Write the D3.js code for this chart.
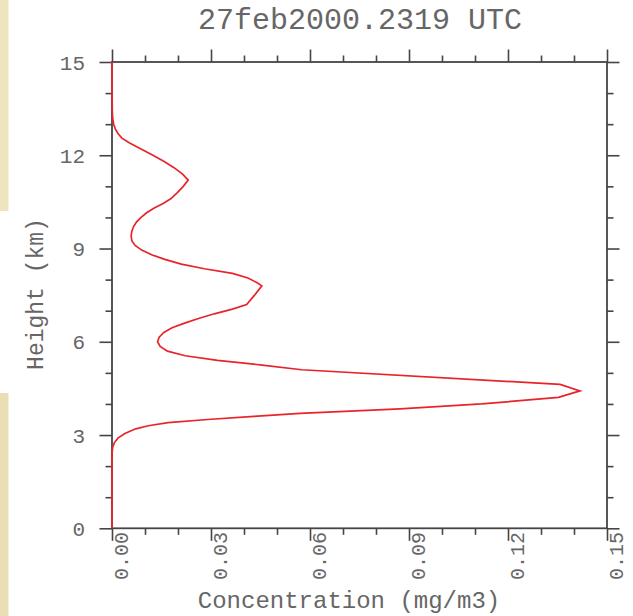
<!DOCTYPE html>
<html>
<head>
<meta charset="utf-8">
<script src="https://cdn.jsdelivr.net/npm/d3@7"></script>
<style>
  html, body { margin: 0; padding: 0; background: #ffffff; }
  svg { display: block; }
</style>
</head>
<body>
<svg id="chart" width="633" height="616"></svg>
<script>
// ---- Data ----
const heights = [15.0, 14.0, 13.4, 13.2, 13.0, 12.85, 12.7, 12.55, 12.4, 12.2, 12.0, 11.8, 11.6, 11.4, 11.2,
  11.0, 10.8, 10.6, 10.45, 10.3, 10.15, 10.0, 9.85, 9.7, 9.55, 9.4, 9.25, 9.1, 8.95, 8.8, 8.65, 8.5, 8.35, 8.2, 8.05, 7.9,
  7.8, 7.5, 7.2, 7.05, 6.9, 6.75, 6.6, 6.45, 6.3, 6.15, 6.0, 5.85, 5.7, 5.55, 5.4, 5.25, 5.1,
  4.63, 4.42, 4.21, 4.0, 3.84, 3.7, 3.6, 3.5, 3.4, 3.3, 3.2, 3.05, 2.9, 2.75, 2.6, 2.4, 1.0, 0.0];
const concentration = [0, 0, 0.0001, 0.0002, 0.0005, 0.0010, 0.0018, 0.0030, 0.0052, 0.0088, 0.0124, 0.0158, 0.0188, 0.0213, 0.0231,
  0.0216, 0.0198, 0.0178, 0.0155, 0.0128, 0.0105, 0.0088, 0.0074, 0.0065, 0.0060, 0.0058, 0.0060, 0.0070, 0.0090, 0.0120, 0.0160, 0.0210, 0.0280, 0.0365, 0.0412, 0.0440,
  0.0454, 0.0432, 0.0408, 0.0365, 0.0310, 0.0262, 0.0220, 0.0182, 0.0157, 0.0143, 0.0138, 0.0146, 0.0168, 0.0222, 0.0320, 0.0455, 0.0575,
  0.1358, 0.1418, 0.1353, 0.1120, 0.0873, 0.0570, 0.0430, 0.0290, 0.0170, 0.0110, 0.0072, 0.0039, 0.0018, 0.0007, 0.0002, 0, 0, 0];
const xMajorTicks = [0, 0.03, 0.06, 0.09, 0.12, 0.15];
const xMinorTicks = [0.01, 0.02, 0.04, 0.05, 0.07, 0.08, 0.10, 0.11, 0.13, 0.14];
const yMajorTicks = [0, 3, 6, 9, 12, 15];
const yMinorTicks = [1, 2, 4, 5, 7, 8, 10, 11, 13, 14];
const titleText = "27feb2000.2319 UTC";
const xLabel = "Concentration (mg/m3)";
const yLabel = "Height (km)";

(function () {
// ---- Layout ----
const svg = d3.select("#chart");
const pLeft = 112, pRight = 607, pTop = 62, pBottom = 528.3;
const x = d3.scaleLinear().domain([0, 0.15]).range([pLeft, pRight]);
const y = d3.scaleLinear().domain([0, 15]).range([pBottom, pTop]);
const axisColor = "#454545";
const textColor = "#666666";
const font = "'Liberation Mono', 'DejaVu Sans Mono', monospace";

// parchment strip at left edge
svg.append("rect").attr("x", 0).attr("y", 0).attr("width", 8.5).attr("height", 211).attr("fill", "#eee4bd");
svg.append("rect").attr("x", 0).attr("y", 393).attr("width", 8.5).attr("height", 223).attr("fill", "#eadfb4");

// ---- Curve ----
const pts = heights.map((h, i) => [concentration[i], h]);
const line = d3.line().x(d => x(d[0])).y(d => y(d[1]));

// ---- Axes (ticks outward on all four sides) ----
function styleAxis(g) {
  g.select(".domain").remove();
  g.selectAll(".tick line").attr("stroke", axisColor).attr("stroke-width", 1.6);
  g.selectAll("text").remove();
}
const majorLen = 12.5, minorLen = 6.5;
svg.append("g").attr("transform", `translate(0,${pBottom})`)
  .call(d3.axisBottom(x).tickValues(xMajorTicks).tickSize(majorLen)).call(styleAxis);
svg.append("g").attr("transform", `translate(0,${pBottom})`)
  .call(d3.axisBottom(x).tickValues(xMinorTicks).tickSize(minorLen)).call(styleAxis);
svg.append("g").attr("transform", `translate(0,${pTop})`)
  .call(d3.axisTop(x).tickValues(xMajorTicks).tickSize(majorLen)).call(styleAxis);
svg.append("g").attr("transform", `translate(0,${pTop})`)
  .call(d3.axisTop(x).tickValues(xMinorTicks).tickSize(minorLen)).call(styleAxis);
svg.append("g").attr("transform", `translate(${pLeft},0)`)
  .call(d3.axisLeft(y).tickValues(yMajorTicks).tickSize(majorLen)).call(styleAxis);
svg.append("g").attr("transform", `translate(${pLeft},0)`)
  .call(d3.axisLeft(y).tickValues(yMinorTicks).tickSize(minorLen)).call(styleAxis);
svg.append("g").attr("transform", `translate(${pRight},0)`)
  .call(d3.axisRight(y).tickValues(yMajorTicks).tickSize(majorLen)).call(styleAxis);
svg.append("g").attr("transform", `translate(${pRight},0)`)
  .call(d3.axisRight(y).tickValues(yMinorTicks).tickSize(minorLen)).call(styleAxis);

// frame
svg.append("rect").attr("x", pLeft).attr("y", pTop)
  .attr("width", pRight - pLeft).attr("height", pBottom - pTop)
  .attr("fill", "none").attr("stroke", axisColor).attr("stroke-width", 1.8);

// curve on top
svg.append("path").datum(pts).attr("d", line)
  .attr("fill", "none").attr("stroke", "#e8242b").attr("stroke-width", 1.7)
  .attr("stroke-linejoin", "miter");

// ---- Tick labels ----
svg.append("g").selectAll("text").data(yMajorTicks).join("text")
  .attr("x", 85).attr("y", d => y(d)).attr("dy", "0.36em")
  .attr("text-anchor", "end").attr("font-family", font).attr("font-size", 21)
  .attr("fill", textColor).text(d => d);

svg.append("g").selectAll("text").data(xMajorTicks).join("text")
  .attr("transform", d => `translate(${x(d) + 8.5},532) rotate(-90)`)
  .attr("dy", "0.36em")
  .attr("text-anchor", "end").attr("font-family", font).attr("font-size", 20)
  .attr("fill", textColor).text(d => d3.format(".2f")(d));

// ---- Titles ----
svg.append("text").attr("x", 360).attr("y", 29).attr("text-anchor", "middle")
  .attr("font-family", font).attr("font-size", 30).attr("fill", textColor).text(titleText);
svg.append("text").attr("x", 349).attr("y", 608).attr("text-anchor", "middle")
  .attr("font-family", font).attr("font-size", 24).attr("fill", textColor).text(xLabel);
svg.append("text").attr("transform", "translate(43,294) rotate(-90)").attr("text-anchor", "middle")
  .attr("font-family", font).attr("font-size", 23).attr("fill", textColor).text(yLabel);
})();
</script>
</body>
</html>
